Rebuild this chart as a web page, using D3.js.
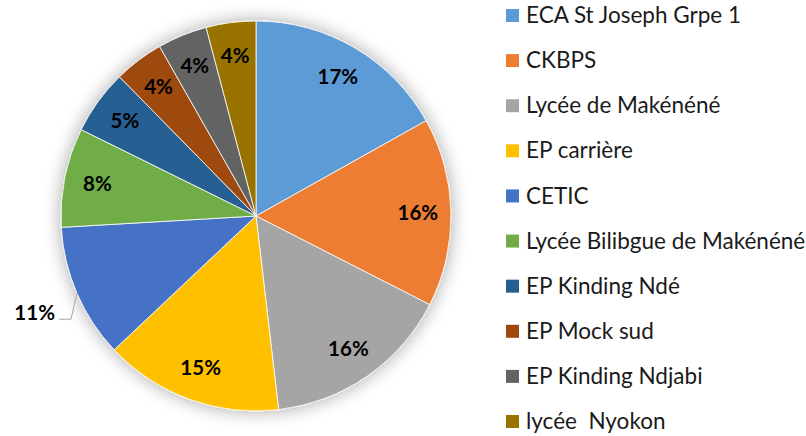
<!DOCTYPE html>
<html>
<head>
<meta charset="utf-8">
<script src="https://cdn.jsdelivr.net/npm/d3@7"></script>
<style>
  body { margin: 0; background: #fff; }
  svg { display: block; }
  .lbl { font-family: Lato, "Open Sans", sans-serif; font-weight: 700; fill: #000; }
  .leg { font-family: Lato, "Open Sans", sans-serif; fill: #1a1a1a; }
</style>
</head>
<body>
<div id="chart"></div>
<script>
// data
const schools = ["ECA St Joseph Grpe 1", "CKBPS", "Lycée de Makénéné", "EP carrière", "CETIC",
                 "Lycée Bilibgue de Makénéné", "EP Kinding Ndé", "EP Mock sud", "EP Kinding Ndjabi", "lycée  Nyokon"];
const counts = [41, 38, 38, 36, 27, 20, 13, 10, 10, 10];
const colors = ["#5B9BD5", "#ED7D31", "#A5A5A5", "#FFC000", "#4472C4",
                "#70AD47", "#255E91", "#9E480E", "#636363", "#997300"];

const W = 806, H = 436;
const cx = 256, cy = 216, R = 195;

const svg = d3.select("#chart").append("svg")
    .attr("width", W)
    .attr("height", H);

// soft glow round the pie
const defs = svg.append("defs");
const glow = defs.append("filter")
    .attr("id", "glow")
    .attr("x", "-20%").attr("y", "-20%")
    .attr("width", "140%").attr("height", "140%");
glow.append("feGaussianBlur").attr("in", "SourceAlpha").attr("stdDeviation", 9).attr("result", "b");
glow.append("feComponentTransfer").attr("in", "b").attr("result", "s")
    .append("feFuncA").attr("type", "linear").attr("slope", 0.35);
const fm = glow.append("feMerge");
fm.append("feMergeNode").attr("in", "s");
fm.append("feMergeNode").attr("in", "SourceGraphic");

const color = d3.scaleOrdinal().domain(schools).range(colors);
const total = d3.sum(counts);
const data = schools.map((s, i) => ({name: s, value: counts[i]}));

const pie = d3.pie().value(d => d.value).sort(null);
const arcs = pie(data);
const arc = d3.arc().innerRadius(0).outerRadius(R);
const labelArc = d3.arc().innerRadius(R * 0.83).outerRadius(R * 0.83);

const g = svg.append("g").attr("transform", `translate(${cx},${cy})`);

g.append("g").attr("filter", "url(#glow)")
    .selectAll("path")
    .data(arcs)
    .enter().append("path")
    .attr("d", arc)
    .attr("fill", d => color(d.data.name))
    .attr("stroke", "#fff")
    .attr("stroke-width", 0.8);

const pct = d => d3.format(".0%")(d.data.value / total);

// labels inside, except CETIC which sits outside with a leader line
const outside = "CETIC";
g.selectAll(".lbl")
    .data(arcs.filter(d => d.data.name !== outside))
    .enter().append("text")
    .attr("class", "lbl")
    .attr("transform", d => `translate(${labelArc.centroid(d)})`)
    .attr("text-anchor", "middle")
    .attr("dy", "0.35em")
    .style("font-size", "20.5px")
    .text(pct);

const od = arcs.find(d => d.data.name === outside);
const edge = d3.arc().innerRadius(R).outerRadius(R).centroid(od);
const bend = [edge[0] - 6, edge[1] + 26];
const end = [bend[0] - 12, bend[1]];
g.append("polyline")
    .attr("points", [edge, bend, end].map(p => p.join(",")).join(" "))
    .attr("fill", "none")
    .attr("stroke", "#a6a6a6")
    .attr("stroke-width", 1);
g.append("text")
    .attr("class", "lbl")
    .attr("x", end[0] - 4)
    .attr("y", end[1])
    .attr("dy", "0.05em")
    .attr("text-anchor", "end")
    .style("font-size", "20.5px")
    .text(pct(od));

// legend
const legY = d3.scalePoint().domain(schools).range([15, 421]);
const leg = svg.append("g").attr("transform", "translate(506,0)");
const item = leg.selectAll(".item")
    .data(schools)
    .enter().append("g")
    .attr("transform", d => `translate(0,${legY(d)})`);
item.append("rect")
    .attr("x", 0).attr("y", -6)
    .attr("width", 13).attr("height", 13)
    .attr("fill", d => color(d));
item.append("text")
    .attr("class", "leg")
    .attr("x", 20)
    .attr("dy", "0.36em")
    .style("font-size", "22.5px")
    .style("white-space", "pre")
    .text(d => d);
</script>
</body>
</html>
